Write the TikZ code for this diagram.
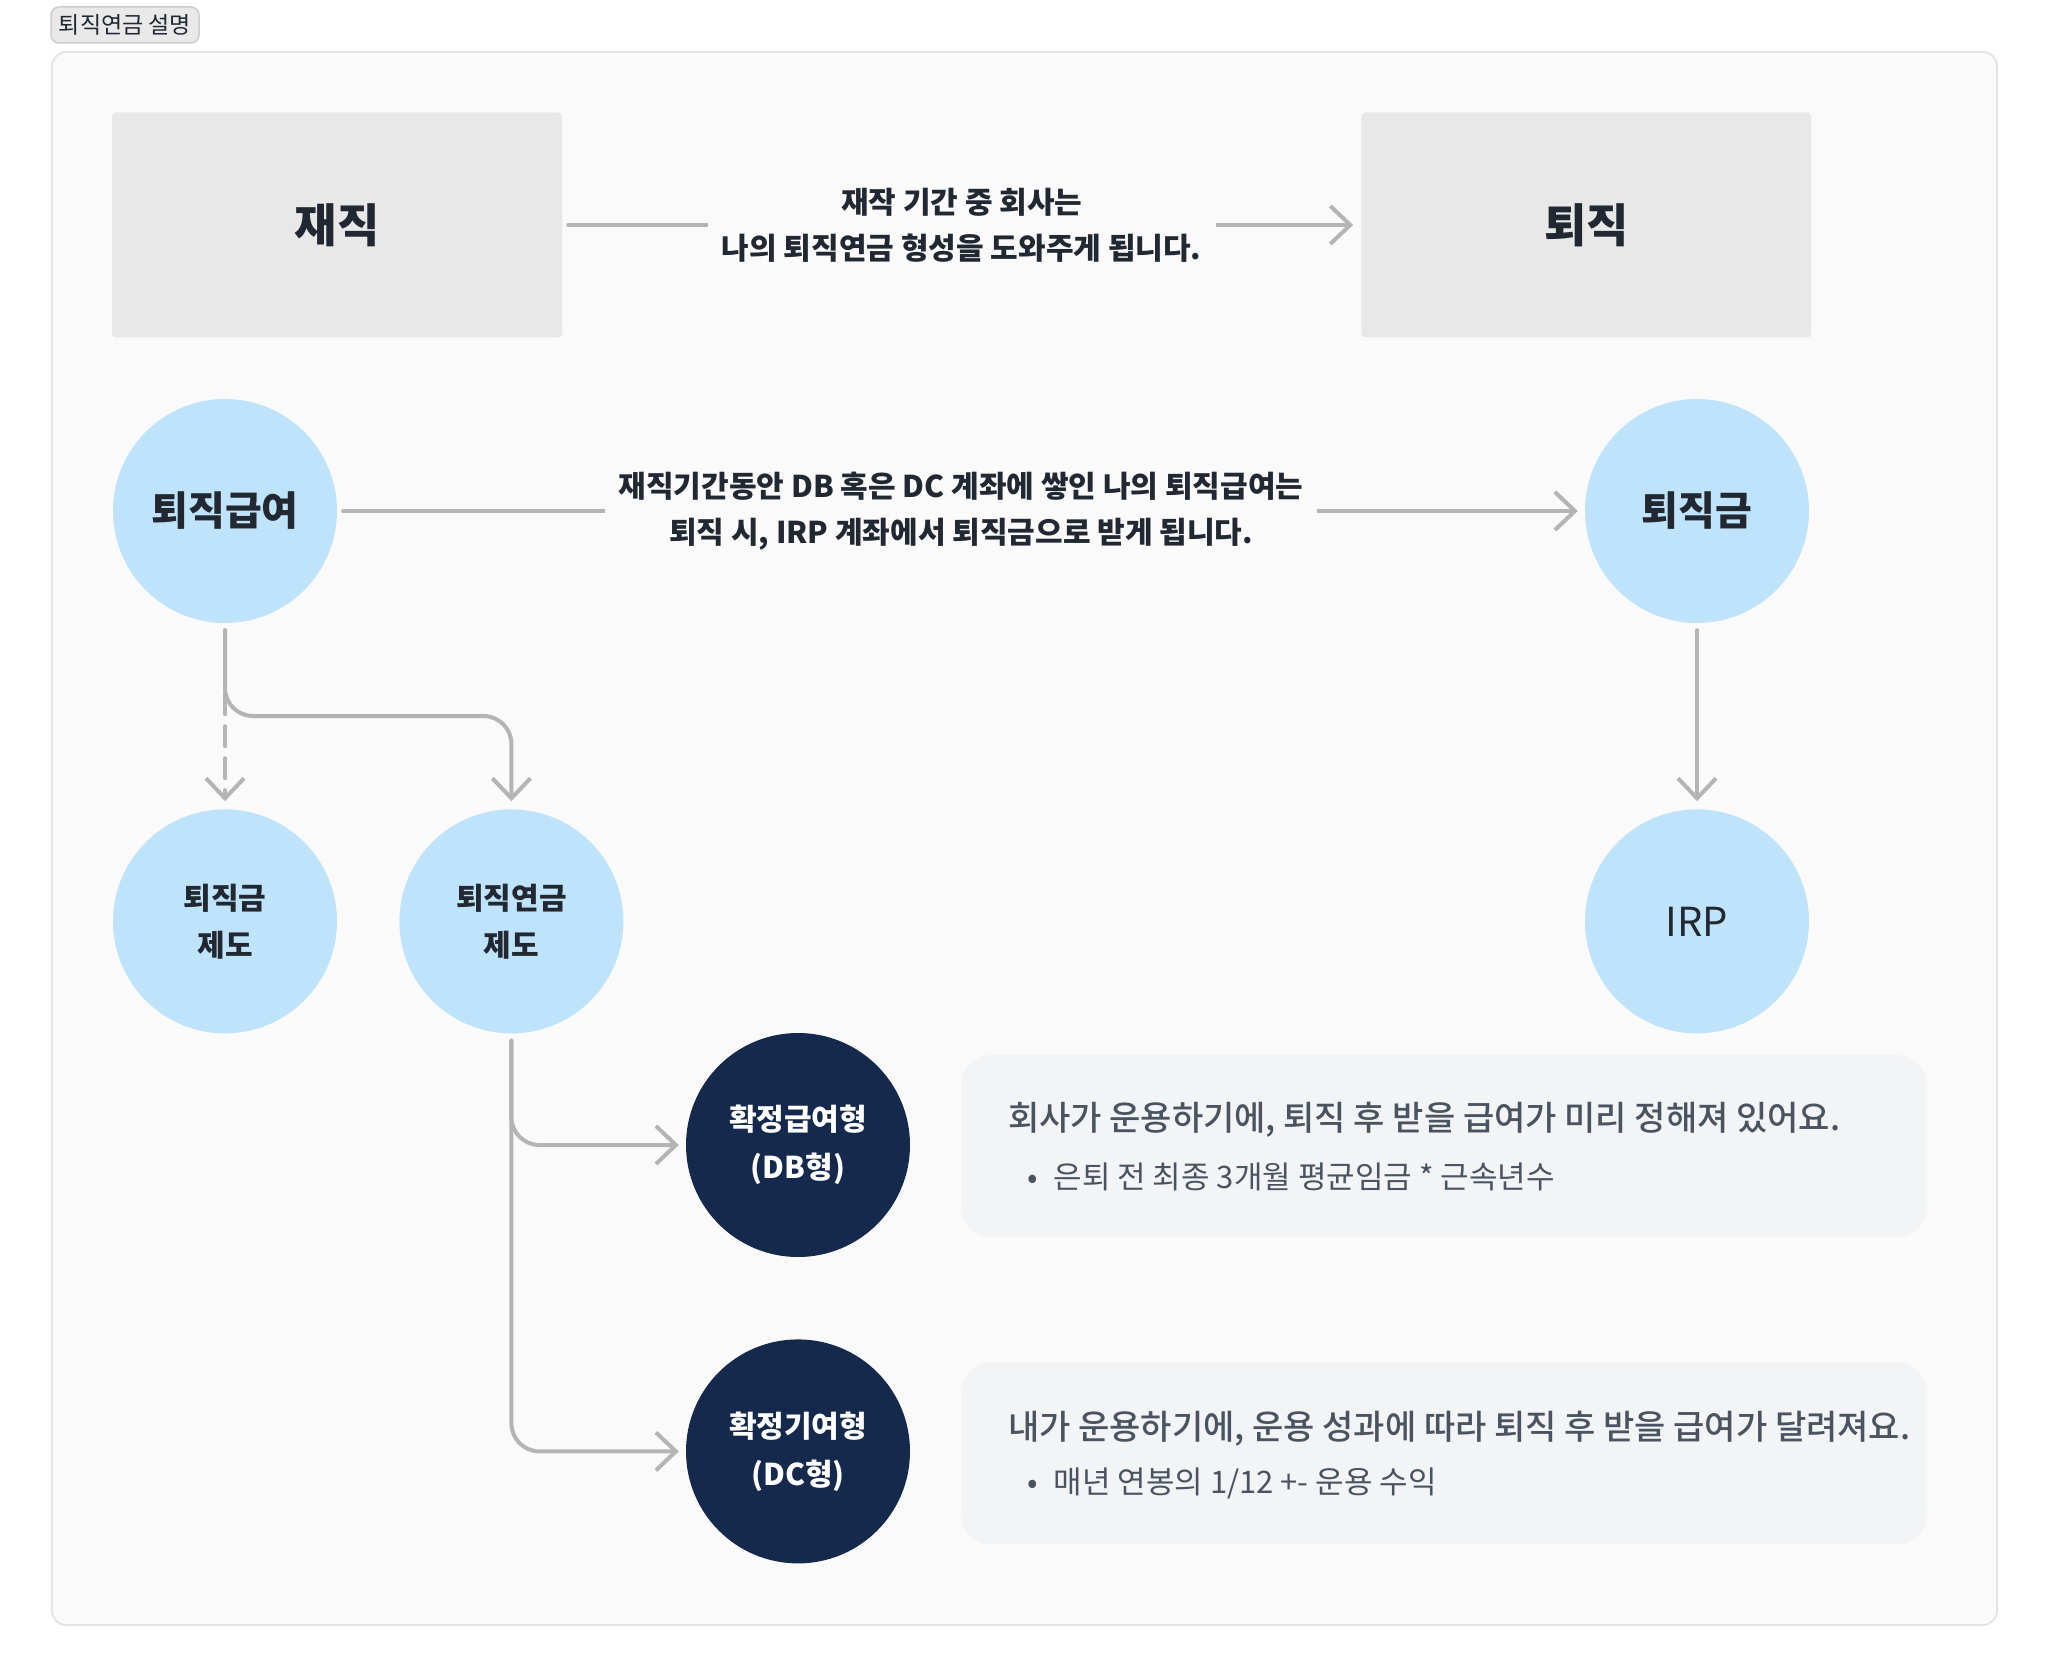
\documentclass[tikz,border=0pt]{standalone}
\usepackage{fontspec}
\setmainfont{Noto Sans CJK KR}
\newfontfamily\medfont{Noto Sans CJK KR}[UprightFont=* Medium]
\usepackage{tikz}
\usetikzlibrary{arrows.meta, positioning, calc}

\definecolor{panelbg}{HTML}{FAFAFA}
\definecolor{panelline}{HTML}{E4E4E4}
\definecolor{boxgray}{HTML}{E8E8E8}
\definecolor{taggray}{HTML}{E9E9E9}
\definecolor{tagline}{HTML}{CDCDCD}
\definecolor{circblue}{HTML}{BEE3FA}
\definecolor{navy}{HTML}{15294D}
\definecolor{infobg}{HTML}{F2F4F6}
\definecolor{linegray}{HTML}{B4B4B4}
\definecolor{darktext}{HTML}{222831}
\definecolor{infotext}{HTML}{4B5360}

\begin{document}
\begin{tikzpicture}[
  x=1pt, y=-1pt,
  tag/.style={rectangle, draw=tagline, fill=taggray, rounded corners=8pt, line width=1.5pt, minimum width=148pt, minimum height=36pt, inner sep=0pt, font=\fontsize{23}{28}\selectfont, text=darktext},
  stage/.style={rectangle, fill=boxgray, rounded corners=4pt, minimum width=450pt, minimum height=225pt, font=\fontsize{46}{52}\selectfont\bfseries, text=darktext},
  bubble/.style={circle, fill=circblue, minimum size=224pt, inner sep=0pt, align=center, text=darktext, font=\fontsize{30}{47}\selectfont\bfseries},
  plan/.style={circle, fill=navy, minimum size=224pt, inner sep=0pt, align=center, text=white, font=\fontsize{30}{48}\selectfont\bfseries},
  midlabel/.style={fill=panelbg, align=center, inner xsep=14pt, font=\fontsize{30}{46}\selectfont\bfseries, text=darktext},
  infobox/.style={rectangle, fill=infobg, rounded corners=30pt, minimum width=966pt, minimum height=182pt},
  infohead/.style={anchor=west, inner sep=0pt, font=\medfont\fontsize{34}{40}\selectfont, text=infotext},
  infoitem/.style={anchor=west, inner sep=0pt, font=\fontsize{31}{36}\selectfont, text=infotext},
  arrow/.style={-{Straight Barb[length=20pt, width=38pt]}, line width=4pt, linegray, line cap=round, line join=round}
]
  \useasboundingbox (0,0) rectangle (2048,1677);
  \draw[panelline, fill=panelbg, line width=2pt, rounded corners=14pt] (52,52) rectangle (1997,1625);
  \node[tag] (title) at (125,25) {퇴직연금 설명};

  \node[stage] (working) at (337,225) {재직};
  \node[stage, right=799pt of working] (retired) {퇴직};

  \node[bubble, font=\fontsize{40}{46}\selectfont\bfseries] (benefit) at (225,511) {퇴직급여};
  \node[bubble, font=\fontsize{40}{46}\selectfont\bfseries] (lumpsum) at (1697,511) {퇴직금};
  \node[bubble, below=186pt of benefit] (severance) {퇴직금\\제도};
  \node[bubble, right=62pt of severance] (pension) {퇴직연금\\제도};
  \node[bubble, below=186pt of lumpsum, font=\fontsize{40}{50}\selectfont] (irp) {IRP};

  \node[plan] (dbtype) at (798,1145) {확정급여형\\(DB형)};
  \node[plan, below=82pt of dbtype] (dctype) {확정기여형\\(DC형)};

  \node[infobox] (dbinfo) at (1444,1146) {};
  \node[infobox, below=125pt of dbinfo] (dcinfo) {};
  \node[infohead] (dbhead) at ([xshift=47pt, yshift=26pt]dbinfo.west) {회사가 운용하기에, 퇴직 후 받을 급여가 미리 정해져 있어요.};
  \node[infoitem] (dbitem) at ([xshift=66pt, yshift=-31pt]dbinfo.west) {•\hspace{16pt}은퇴 전 최종 3개월 평균임금 * 근속년수};
  \node[infohead] (dchead) at ([xshift=47pt, yshift=25pt]dcinfo.west) {내가 운용하기에, 운용 성과에 따라 퇴직 후 받을 급여가 달려져요.};
  \node[infoitem] (dcitem) at ([xshift=66pt, yshift=-30pt]dcinfo.west) {•\hspace{16pt}매년 연봉의 1/12 +- 운용 수익};

  \coordinate (split) at (225,716);

  \draw[arrow, shorten <=6pt, shorten >=8pt] (working) -- node[midlabel]{재작 기간 중 회사는\\나의 퇴직연금 형성을 도와주게 됩니다.} (retired);
  \draw[arrow, shorten <=6pt, shorten >=7pt] (benefit) -- node[midlabel]{재직기간동안 DB 혹은 DC 계좌에 쌓인 나의 퇴직급여는\\퇴직 시, IRP 계좌에서 퇴직금으로 받게 됩니다.} (lumpsum);
  \draw[arrow, shorten <=7pt, shorten >=8pt] (lumpsum) -- (irp);
  \draw[arrow, dash pattern=on 20pt off 12pt, shorten <=7pt, shorten >=8pt] (benefit) -- (severance);
  \draw[arrow, rounded corners=28pt, shorten <=7pt, shorten >=8pt] (benefit) -- (split) -| (pension);
  \draw[arrow, rounded corners=28pt, shorten <=7pt, shorten >=7pt] (pension) |- (dbtype);
  \draw[arrow, rounded corners=28pt, shorten <=7pt, shorten >=7pt] (pension) |- (dctype);
\end{tikzpicture}
\end{document}
